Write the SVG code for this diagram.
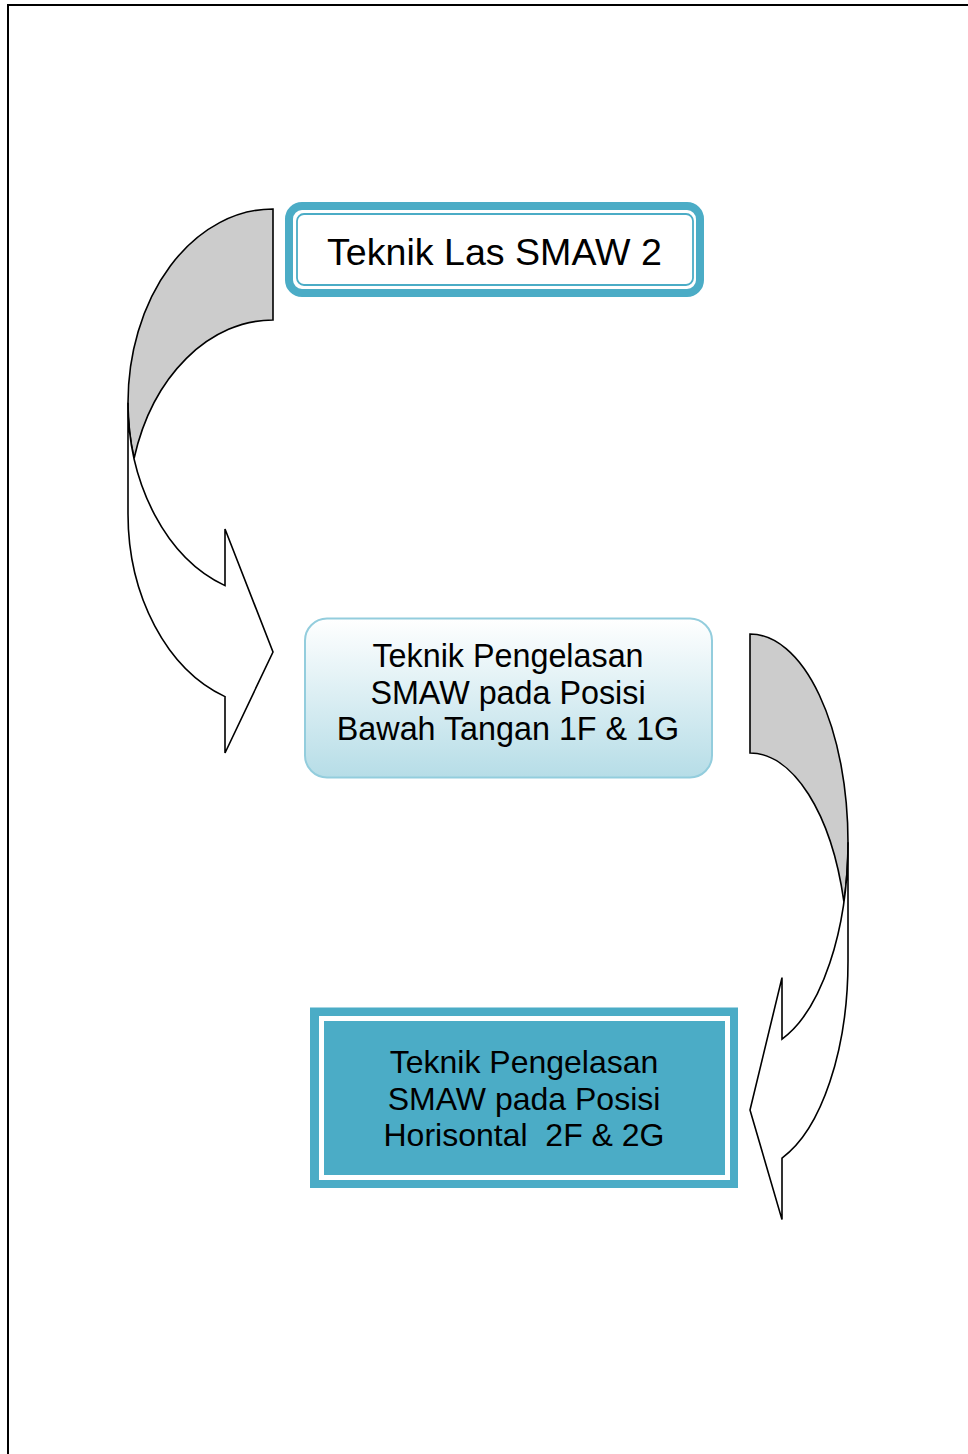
<svg xmlns="http://www.w3.org/2000/svg" width="968" height="1454" viewBox="0 0 968 1454">
<defs>
<linearGradient id="g2" x1="0" y1="0" x2="0" y2="1">
<stop offset="0" stop-color="#ffffff"/>
<stop offset="1" stop-color="#b6dde7"/>
</linearGradient>
<style>
.t{font-family:"Liberation Sans",Arial,sans-serif;fill:#000;text-anchor:middle;white-space:pre}
.arr{stroke:#000;stroke-width:1.6;stroke-linejoin:miter}
.back{fill:#cccccc}
.front{fill:#ffffff}
</style>
</defs>
<rect width="968" height="1454" fill="#fff"/>
<g id="page-border" fill="none" stroke="#000" stroke-width="2">
<path d="M8,1454 L8,5 L968,5"/>
</g>
<g id="connectors">
<g id="arrow-left">
<path class="arr back" d="M273,209 A145,193.75 0 0 0 128,402.75 A145,193.75 0 0 0 134.1,458.25 A145,193.75 0 0 1 273,320 Z"/>
<path class="arr front" d="M128,402.75 A145,193.75 0 0 0 225,585.6 L225,529 L273,652 L225,753 L225,696.6 A145,193.75 0 0 1 128,513.75 Z"/>
</g>
<g id="arrow-right">
<path class="arr back" d="M750,634 A98,208.25 0 0 1 848,842.25 A98,208.25 0 0 1 843.9,901.75 A98,208.25 0 0 0 750,753 Z"/>
<path class="arr front" d="M848,842.25 A98,208.25 0 0 1 782,1039.1 L782,977.6 L750,1110 L782,1219.6 L782,1158.1 A98,208.25 0 0 0 848,961.25 Z"/>
</g>
</g>
<g id="node1">
<rect x="289" y="206" width="411" height="87" rx="13" fill="#fff" stroke="#4bacc6" stroke-width="8"/>
<rect x="297" y="214" width="396" height="71" rx="7" fill="none" stroke="#4bacc6" stroke-width="1.8"/>
<text class="t" x="494.5" y="265" font-size="37.6">Teknik Las SMAW 2</text>
</g>
<g id="node2">
<rect x="305" y="618.5" width="407" height="159" rx="22" fill="url(#g2)" stroke="#93cddd" stroke-width="2"/>
<text class="t" x="508" y="667" font-size="32.3">Teknik Pengelasan</text>
<text class="t" x="508" y="703.5" font-size="32.3">SMAW pada Posisi</text>
<text class="t" x="508" y="740" font-size="32.3">Bawah Tangan 1F &amp; 1G</text>
</g>
<g id="node3">
<rect x="310" y="1007.5" width="428" height="180.5" fill="#4bacc6"/>
<rect x="321.5" y="1018.5" width="406" height="159" fill="none" stroke="#fff" stroke-width="5"/>
<text class="t" x="524" y="1073" font-size="32">Teknik Pengelasan</text>
<text class="t" x="524" y="1109.5" font-size="32">SMAW pada Posisi</text>
<text class="t" x="524" y="1146" font-size="32">Horisontal  2F &amp; 2G</text>
</g>
</svg>
